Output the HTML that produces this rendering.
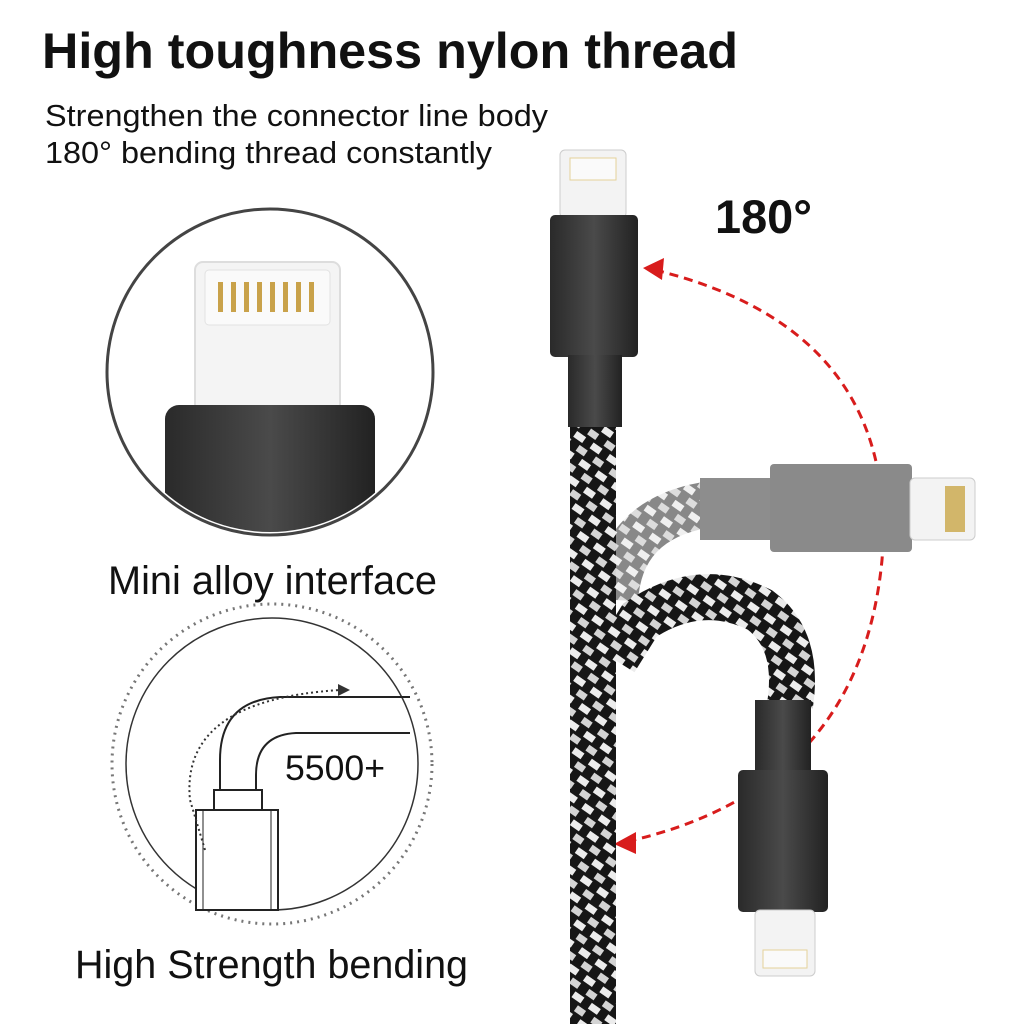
<!DOCTYPE html>
<html><head><meta charset="utf-8"><style>
html,body{margin:0;padding:0;background:#fff;}
svg{display:block;}
text{font-family:"Liberation Sans",sans-serif;fill:#111;}
</style></head><body>
<svg width="1024" height="1024" viewBox="0 0 1024 1024" xmlns="http://www.w3.org/2000/svg">
<defs>
<pattern id="braid" width="20" height="20" patternUnits="userSpaceOnUse" patternTransform="rotate(35)">
<rect width="20" height="20" fill="#161616"/>
<rect x="0" y="2" width="11" height="7" fill="#ececec"/>
<rect x="10" y="12" width="11" height="7" fill="#d4d4d4"/>
</pattern>
<pattern id="braidg" width="20" height="20" patternUnits="userSpaceOnUse" patternTransform="rotate(35)">
<rect width="20" height="20" fill="#888"/>
<rect x="0" y="2" width="11" height="7" fill="#f0f0f0"/>
<rect x="10" y="12" width="11" height="7" fill="#dcdcdc"/>
</pattern>
<linearGradient id="blk" x1="0" x2="1">
<stop offset="0" stop-color="#2a2a2a"/><stop offset="0.5" stop-color="#4a4a4a"/><stop offset="1" stop-color="#222"/>
</linearGradient>
<clipPath id="c1"><circle cx="270" cy="372" r="160"/></clipPath>
</defs>

<text x="42" y="68" font-size="50" font-weight="bold" textLength="696" lengthAdjust="spacingAndGlyphs">High toughness nylon thread</text>
<text x="45" y="126" font-size="31" textLength="503" lengthAdjust="spacingAndGlyphs">Strengthen the connector line body</text>
<text x="45" y="163" font-size="31" textLength="447" lengthAdjust="spacingAndGlyphs">180° bending thread constantly</text>

<circle cx="270" cy="372" r="163" fill="#fff" stroke="#444" stroke-width="3"/>
<g clip-path="url(#c1)">
<rect x="195" y="262" width="145" height="150" rx="8" fill="#f4f4f4" stroke="#ddd" stroke-width="2"/>
<rect x="205" y="270" width="125" height="55" rx="4" fill="#fafafa" stroke="#e2e2e2"/>
<g fill="#c9a24a">
<rect x="218" y="282" width="5" height="30"/><rect x="231" y="282" width="5" height="30"/><rect x="244" y="282" width="5" height="30"/><rect x="257" y="282" width="5" height="30"/><rect x="270" y="282" width="5" height="30"/><rect x="283" y="282" width="5" height="30"/><rect x="296" y="282" width="5" height="30"/><rect x="309" y="282" width="5" height="30"/>
</g>
<rect x="165" y="405" width="210" height="130" rx="14" fill="url(#blk)"/>
</g>
<text x="108" y="594" font-size="40" textLength="329" lengthAdjust="spacingAndGlyphs">Mini alloy interface</text>

<circle cx="272" cy="764" r="160" fill="none" stroke="#777" stroke-width="3" stroke-dasharray="2 5"/>
<circle cx="272" cy="764" r="146" fill="none" stroke="#333" stroke-width="1.5"/>
<path d="M220 790 L220 760 Q220 700 280 697 L410 697" fill="none" stroke="#222" stroke-width="2"/>
<path d="M256 790 L256 775 Q256 735 296 733 L410 733" fill="none" stroke="#222" stroke-width="2"/>
<rect x="214" y="790" width="48" height="20" fill="#fff" stroke="#222" stroke-width="2"/>
<rect x="196" y="810" width="82" height="100" fill="#fff" stroke="#222" stroke-width="2"/>
<rect x="203" y="810" width="68" height="100" fill="none" stroke="#222" stroke-width="1"/>
<path d="M205 850 L190 800 Q180 700 340 690" fill="none" stroke="#333" stroke-width="2" stroke-dasharray="2 3"/>
<polygon points="350,690 338,684 338,696" fill="#333"/>
<text x="285" y="780" font-size="35" textLength="100" lengthAdjust="spacingAndGlyphs">5500+</text>
<text x="75" y="978" font-size="40" textLength="393" lengthAdjust="spacingAndGlyphs">High Strength bending</text>

<path d="M655 270 Q900 330 882 560 Q860 790 625 842" fill="none" stroke="#d81c1c" stroke-width="3" stroke-dasharray="9 6"/>
<polygon points="643,268 664,258 662,280" fill="#d81c1c"/>
<polygon points="614,844 636,832 636,854" fill="#d81c1c"/>
<text x="715" y="233" font-size="47" font-weight="bold" textLength="97" lengthAdjust="spacingAndGlyphs">180°</text>

<path d="M615 600 Q620 520 705 505" fill="none" stroke="url(#braidg)" stroke-width="46"/>
<rect x="700" y="478" width="72" height="62" fill="#8d8d8d"/>
<rect x="770" y="464" width="142" height="88" rx="4" fill="#8a8a8a"/>
<rect x="910" y="478" width="65" height="62" rx="5" fill="#f3f3f3" stroke="#ccc"/>
<rect x="945" y="486" width="20" height="46" fill="#d2b66a"/>

<path d="M615 660 L640 620 Q700 580 760 610 Q800 640 790 705" fill="none" stroke="url(#braid)" stroke-width="46"/>

<rect x="570" y="425" width="46" height="600" fill="url(#braid)"/>
<rect x="560" y="150" width="66" height="68" rx="5" fill="#f3f3f3" stroke="#ccc"/>
<rect x="570" y="158" width="46" height="22" fill="#fafafa" stroke="#e4d29a"/>
<rect x="550" y="215" width="88" height="142" rx="5" fill="url(#blk)"/>
<rect x="568" y="355" width="54" height="72" fill="url(#blk)"/>

<rect x="755" y="700" width="56" height="72" fill="url(#blk)"/>
<rect x="738" y="770" width="90" height="142" rx="5" fill="url(#blk)"/>
<rect x="755" y="910" width="60" height="66" rx="5" fill="#f3f3f3" stroke="#ccc"/>
<rect x="763" y="950" width="44" height="18" fill="#fafafa" stroke="#e4d29a"/>
</svg>
</body></html>
